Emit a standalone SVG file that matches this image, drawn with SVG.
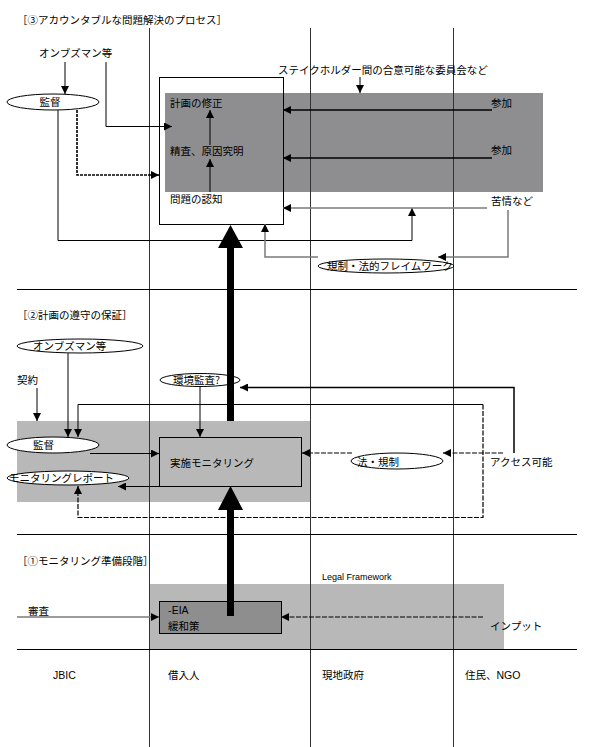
<svg xmlns="http://www.w3.org/2000/svg" width="589" height="747" viewBox="0 0 589 747">
<style>
text{font-family:"Noto Sans CJK JP","Noto Sans CJK SC",sans-serif;font-size:10.5px;fill:#000}
.lat{font-family:"Liberation Sans",Arial,sans-serif}
.lane{stroke:#333;stroke-width:1;fill:none}
.div{stroke:#000;stroke-width:1.2;fill:none}
.ln{stroke:#000;stroke-width:1;fill:none}
.lnb{stroke:#000;stroke-width:1.5;fill:none}
.gl{stroke:#7a7a7a;stroke-width:1.5;fill:none}
.dash{stroke:#000;stroke-width:1.2;fill:none;stroke-dasharray:5 1.5}
.ell{fill:#fff;stroke:#000;stroke-width:1}
</style>
<defs>
<marker id="ah" viewBox="0 0 10 10" refX="10" refY="5" markerWidth="9" markerHeight="8" markerUnits="userSpaceOnUse" orient="auto"><path d="M0,0 L10,5 L0,10 z" fill="#000"/></marker>
</defs>
<rect width="589" height="747" fill="#fff"/>
<g id="regions">
<rect x="165" y="93" width="378" height="99" fill="#8e8e90"/>
<rect x="17" y="421" width="294" height="81" fill="#b8b8b8"/>
<rect x="149" y="584" width="355" height="65" fill="#b8b8b8"/>
</g>
<g id="lanes">
<line class="lane" x1="149.5" y1="28" x2="149.5" y2="747"/>
<line class="lane" x1="310.5" y1="28" x2="310.5" y2="747"/>
<line class="lane" x1="453.5" y1="28" x2="453.5" y2="747"/>
<line class="div" x1="17" y1="289.5" x2="577" y2="289.5"/>
<line class="div" x1="17" y1="534.5" x2="577" y2="534.5"/>
<line class="div" x1="17" y1="649.5" x2="577" y2="649.5"/>
</g>
<g id="section-labels">
<text x="17" y="24">［③アカウンタブルな問題解決のプロセス］</text>
<text x="17" y="319">［②計画の遵守の保証］</text>
<text x="17" y="565">［①モニタリング準備段階］</text>
</g>
<g id="lane-labels">
<text class="lat" x="53" y="679">JBIC</text>
<text x="168" y="679">借入人</text>
<text x="322" y="679">現地政府</text>
<text x="465" y="679">住民、<tspan class="lat">NGO</tspan></text>
</g>
<g id="node-problem-box">
<rect x="159.5" y="77.5" width="124" height="147" fill="none" stroke="#000" stroke-width="1"/>
<text x="170" y="107">計画の修正</text>
<text x="170" y="155">精査、原因究明</text>
<text x="170" y="203">問題の認知</text>
</g>
<g id="node-ombudsman-top"><text x="39" y="57">オンブズマン等</text></g>
<g id="node-kantoku-top">
<ellipse class="ell" cx="53" cy="102" rx="46" ry="8"/>
<text x="50" y="106" text-anchor="middle">監督</text>
</g>
<g id="node-stakeholder"><text x="278" y="74">ステイクホルダー間の合意可能な委員会など</text></g>
<g id="node-sanka1"><text x="491" y="107">参加</text></g>
<g id="node-sanka2"><text x="491" y="154">参加</text></g>
<g id="node-kujou"><text x="491" y="205">苦情など</text></g>
<g id="node-kisei-top">
<ellipse class="ell" cx="386" cy="266" rx="68" ry="7"/>
<text x="327" y="270">規制・法的フレイムワーク</text>
</g>
<g id="node-ombudsman-mid">
<ellipse class="ell" cx="80" cy="346" rx="63" ry="7"/>
<text x="33" y="350">オンブズマン等</text>
</g>
<g id="node-keiyaku"><text x="17" y="384">契約</text></g>
<g id="node-kankyo">
<ellipse class="ell" cx="200" cy="380" rx="40" ry="6.5"/>
<text x="173" y="384">環境監査?</text>
</g>
<g id="node-kantoku-mid">
<ellipse class="ell" cx="53" cy="445" rx="46" ry="8"/>
<text x="33" y="449">監督</text>
</g>
<g id="node-report">
<ellipse class="ell" cx="68" cy="478" rx="61" ry="7"/>
<text x="9" y="482">モニタリングレポート</text>
</g>
<g id="node-monitoring">
<rect x="159.5" y="437.5" width="142" height="49" fill="none" stroke="#000" stroke-width="1"/>
<text x="170" y="467">実施モニタリング</text>
</g>
<g id="node-houkisei">
<ellipse class="ell" cx="397" cy="461" rx="46" ry="8"/>
<text x="357" y="466">法・規制</text>
</g>
<g id="node-access"><text x="490" y="466">アクセス可能</text></g>
<g id="node-eia">
<rect x="159.5" y="601.5" width="122" height="32" fill="#8e8e8e" stroke="#000" stroke-width="1"/>
<text x="168" y="614">-<tspan class="lat">EIA</tspan></text>
<text x="168" y="630">緩和策</text>
</g>
<g id="node-legal"><text class="lat" x="322" y="580" style="font-size:9px">Legal Framework</text></g>
<g id="node-shinsa"><text x="28" y="615">審査</text></g>
<g id="node-input"><text x="490" y="630">インプット</text></g>
<g id="connectors">
<path class="ln" d="M65,62 V94" marker-end="url(#ah)"/>
<path class="ln" d="M106,62 V126.5 H172" marker-end="url(#ah)"/>
<path class="ln" d="M360,77 V93" marker-end="url(#ah)"/>
<path class="lnb" d="M492,110 H283" marker-end="url(#ah)"/>
<path class="lnb" d="M492,158 H283" marker-end="url(#ah)"/>
<path class="ln" d="M210,145 V110" marker-end="url(#ah)"/>
<path class="ln" d="M210,192 V159" marker-end="url(#ah)"/>
<path d="M77,110 V175 H159" fill="none" stroke="#000" stroke-width="1.6" stroke-dasharray="3 1" marker-end="url(#ah)"/>
<path class="ln" d="M58,110 V240.5 H412 V208" marker-end="url(#ah)"/>
<path class="gl" d="M487,208 H283" marker-end="url(#ah)"/>
<path class="gl" d="M508,210 V257 H438" marker-end="url(#ah)"/>
<path class="gl" d="M318,257 H265 V224" marker-end="url(#ah)"/>
<rect x="227" y="247" width="7" height="174" fill="#000"/>
<polygon points="230.5,225 218,248 243,248" fill="#000"/>
<rect x="227" y="509" width="7" height="107" fill="#000"/>
<polygon points="230.5,486 218,510 243,510" fill="#000"/>
<path class="ln" d="M68,353 V437" marker-end="url(#ah)"/>
<path class="ln" d="M37,388 V421" marker-end="url(#ah)"/>
<path class="ln" d="M200,387 V437" marker-end="url(#ah)"/>
<path class="lnb" d="M514,453 V387.5 H240" marker-end="url(#ah)"/>
<path class="ln" d="M483,404.5 H78 V437" marker-end="url(#ah)"/>
<path class="dash" d="M483,404.5 V517.5 H78 V486" marker-end="url(#ah)"/>
<path class="ln" d="M90,453.5 H159" marker-end="url(#ah)"/>
<path class="ln" d="M159,486.5 H118" marker-end="url(#ah)"/>
<path class="dash" d="M503,453 H443" marker-end="url(#ah)"/>
<path class="dash" d="M352,453 H302" marker-end="url(#ah)"/>
<path class="gl" d="M17,617 H159" marker-end="url(#ah)"/>
<path class="dash" d="M483,617 H281" marker-end="url(#ah)"/>
</g>
</svg>
